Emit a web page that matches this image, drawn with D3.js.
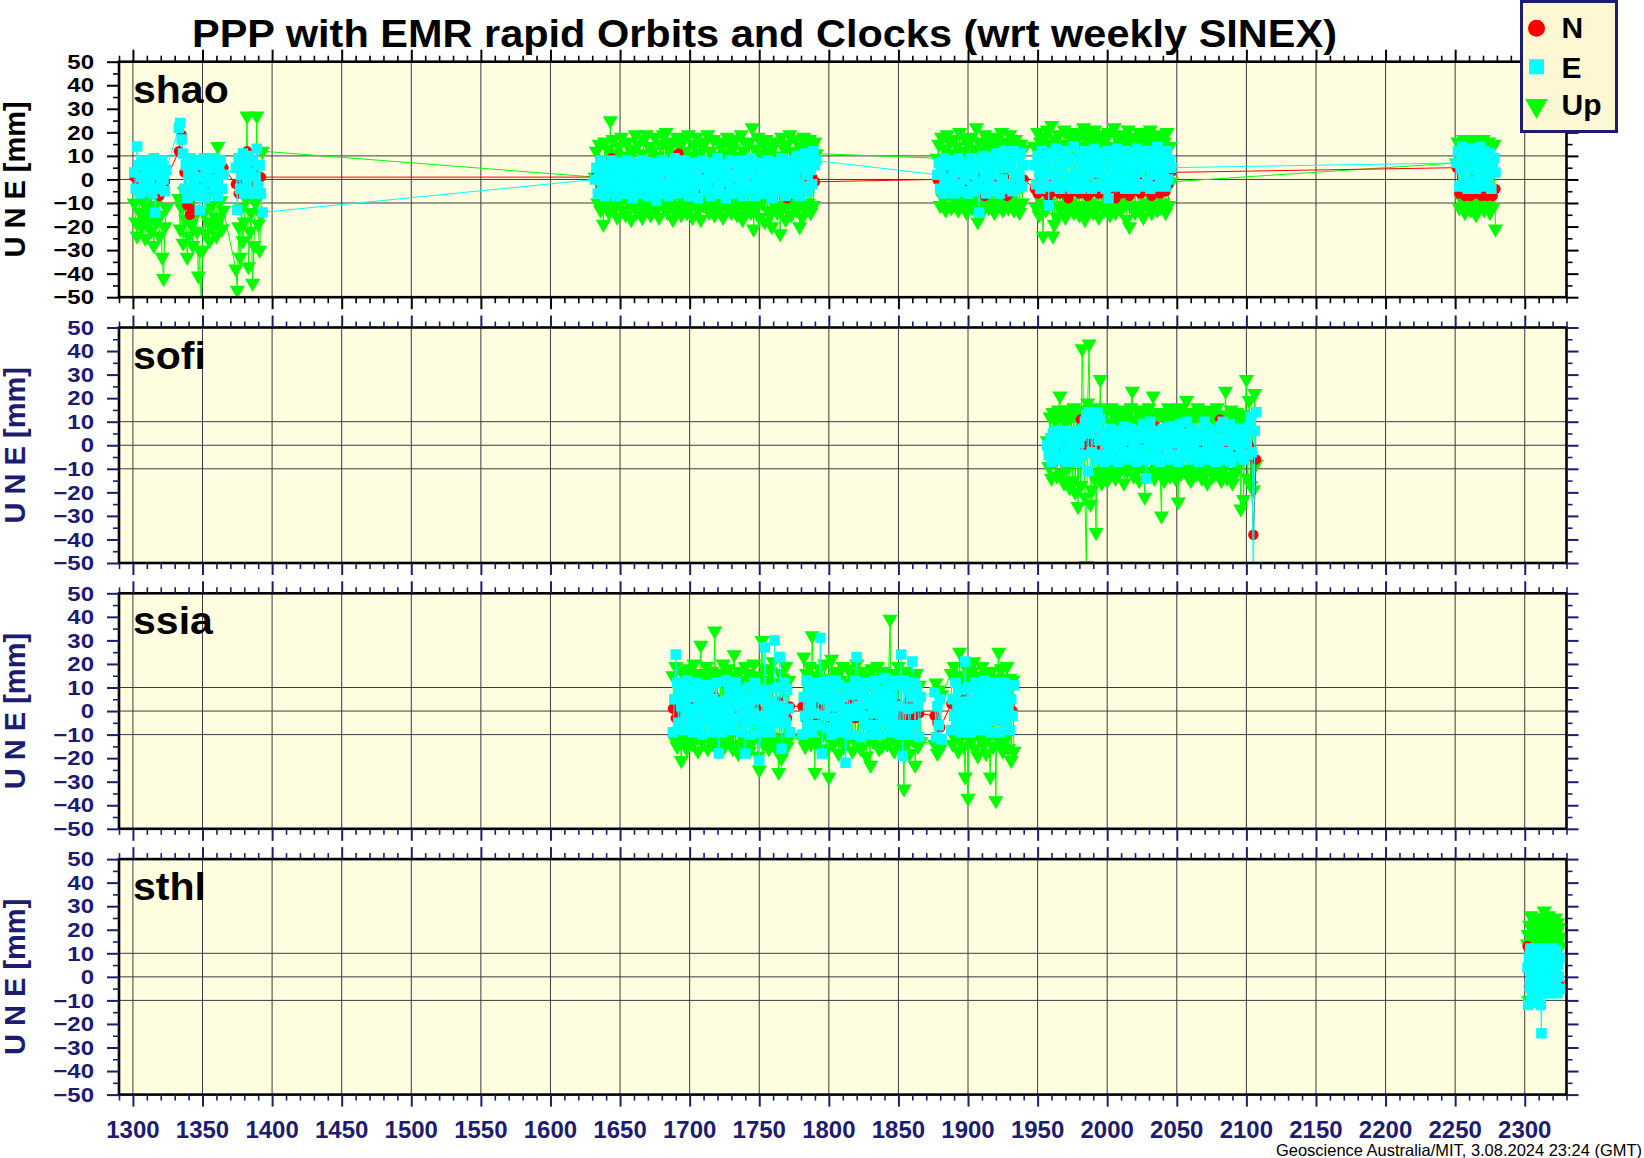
<!DOCTYPE html>
<html><head><meta charset="utf-8">
<script src="https://cdn.jsdelivr.net/npm/d3@7"></script>
<style>body{margin:0;background:#fff;} svg{display:block;}</style>
</head><body>
<svg id="c" width="1644" height="1158"></svg>
<script>
// ---------------- DATA ----------------
const stations = ["shao", "sofi", "ssia", "sthl"];
const xTicksMajor = [1300,1350,1400,1450,1500,1550,1600,1650,1700,1750,1800,1850,1900,1950,2000,2050,2100,2150,2200,2250,2300];
const yTicksMajor = [50,40,30,20,10,0,-10,-20,-30,-40,-50];
const gridY = [10,0,-10];
const titleText = "PPP with EMR rapid Orbits and Clocks (wrt weekly SINEX)";
const footerText = "Geoscience Australia/MIT, 3.08.2024 23:24 (GMT)";
const legendLabels = ["N","E","Up"];

// time sampling (GPS weeks): first week of each data segment, and the step of each series
const segStarts = {
  shao: [1301, 1333, 1374, 1632, 1878, 1948, 2251],
  sofi: [1957],
  ssia: [1688, 1781, 1876, 1888],
  sthl: [2302]
};
const weekStep = {
  shao: {N: 2, E: 1, U: 1},
  sofi: {N: 2, E: 1, U: 1},
  ssia: {N: 2, E: 1, U: 1},
  sthl: {N: 1, E: 0.5, U: 0.5}
};

// ---- shao (mm)
const shaoN = [
 [1,-3,3,-2,2,-4,0,3,-3,-7,2,-1],
 [12,19,3,-11,-15,-13,-4,2,-3,3,-2,1,-4,2,-1,3,5],
 [-2,-6,3,-1,12,4,-3,2,-2,1],
 [1,2,-3,4,-2,3,9,-1,2,-3,1,4,-2,3,0,-3,2,4,-4,1,-6,2,-1,3,-3,1,4,-2,0,3,11,-2,2,-3,4,0,-2,3,-4,1,2,-3,4,-1,1,-2,-5,3,0,2,-3,4,1,-2,3,-1,8,2,-3,1,4,-2,0,3,-4,2,-1,3,-3,-8,1,3,-2,4,0,-3,2,-2,1,-1],
 [0,3,-2,2,-3,1,-6,2,-1,3,-3,1,2,-2,0,-4,3,-7,1,-2,2,-3,0,-4,1,-7,-2,-5,-3,-4,-1,0],
 [-4,-6,-2,-5,0,-7,-3,-5,-1,-6,-4,-2,-8,-3,-5,0,-6,-4,-2,-7,-3,-5,-1,-6,-4,-2,-7,-5,-3,-8,-1,-6,-4,-2,-7,-5,-3,0,-6,-4,-2,-5,-7,-3,-1,-6,-4,-5,-2,3],
 [5,-6,-2,-7,-4,-7,0,-6,-3,-7,-5,-7,-6,-7,-4]
];
const shaoE = [
 [3,-4,14,6,-6,1,8,-2,5,-5,7,-1,3,-6,9,-14,2,-4,6,-3,8,0,-5,4],
 [22,24,17,11,-4,6,-8,2,9,-6,4,-2,8,-7,1,-13,6,-4,9,-8,3,-1,7,-6,5,-3,9,0,-7,4,8,-4,2],
 [5,-13,9,-4,2,11,-6,6,-1,10,-5,3,8,-6,1,13,-3,6,-6,-14],
 [0,5,-6,3,8,-3,1,-7,6,-1,4,-5,8,-2,2,-7,6,0,-4,7,-6,3,-1,8,-5,1,5,-8,7,-3,2,-6,6,-2,8,-4,0,4,-7,5,
  -1,7,-5,3,-9,6,1,-3,8,-6,4,-2,7,-7,2,5,-4,9,-1,-6,3,6,-5,0,8,-3,4,-7,6,1,-4,7,-1,3,-8,5,-2,8,0,-5,
  6,-3,2,-7,7,1,-5,4,9,-2,-6,3,6,-1,-8,5,0,8,-4,2,7,-6,1,4,-3,8,-7,3,-1,6,-5,2,9,-3,5,-7,0,7,-4,3,
  -1,6,-6,4,8,-2,1,-8,5,-4,7,0,-5,3,9,-3,6,-7,2,-1,8,-4,4,-6,1,10,-2,5,-7,7,-3,11,2,-5,9,4,-2,12,6,8],
 [2,7,-4,4,-6,9,0,-3,6,-5,8,1,-6,5,-2,9,-4,3,7,-5,0,6,-6,4,9,-3,2,-5,8,-1,-14,5,-4,10,1,-6,7,-2,4,9,
  -5,2,11,-3,6,-6,8,0,12,-4,5,10,-2,7,-5,12,3,-4,9,1,11,-3,6],
 [6,-2,10,3,-4,12,1,8,-3,5,-11,11,2,-3,9,13,0,6,-4,10,4,-2,12,7,-3,1,9,-4,14,3,-1,8,11,-4,5,0,12,-3,7,2,
  10,-4,6,13,-2,3,9,-3,11,1,7,-4,12,-8,5,-1,10,2,-3,13,6,-2,9,0,12,-4,4,8,-3,11,1,7,-4,13,3,-2,10,5,-3,9,
  12,-1,6,-4,11,2,8,-3,14,4,-2,10,1,7,-3,12,0,8,5],
 [7,12,-3,5,14,-2,9,1,-4,11,4,13,-1,7,-4,10,2,14,-2,6,12,-3,8,1,11,-4,5,9,3]
];
const shaoU = [
 [-10,-18,-24,-6,-14,-20,-9,-16,-25,-12,-19,-7,-22,-14,-28,-11,-18,-8,-24,-15,-33,-42,-20,-12],
 [-8,-21,-12,-27,-5,-17,-33,-24,-10,-19,-28,-6,-15,-22,-41,-30,-55,-30,-14,-23,-8,-18,-26,-11,-20,-5,-16,-24,14,-17,-9,-21,-13],
 [-38,-47,-20,-33,-12,-26,-18,-8,27,-37,-22,-14,-44,-28,-10,27,-19,-30,-15,12],
 [1,12,-10,15,-13,8,-19,16,-11,13,-14,25,-9,17,-12,11,-16,14,-8,18,-13,10,-15,16,-10,13,-17,12,-11,19,
  -14,15,-9,11,-16,17,-12,19,-10,14,-15,12,-11,18,-13,10,-16,15,-9,19,-12,20,-14,13,-10,16,-17,11,-13,18,
  -11,14,-15,17,-9,12,-14,19,-12,10,-16,15,-10,18,-13,11,-17,14,-11,16,-9,19,-14,12,-12,17,-15,10,-10,16,
  -13,14,-16,11,-11,18,-9,15,-14,13,-12,17,-15,10,-10,19,-17,12,-13,15,-11,16,-14,22,-21,13,-12,18,-16,11,
  -10,15,-18,17,-13,12,-15,-20,14,-11,16,-14,10,-23,18,-12,13,-17,15,-10,19,-15,12,-11,17,-13,11,-20,14,-16,
  18,-12,15,-10,17,-14,13,-11,16,11],
 [9,15,-11,18,-8,13,-13,19,-6,16,-12,11,17,-10,14,-13,20,-9,12,-11,17,-14,15,-10,18,-12,13,-7,22,-18,
  16,-11,12,-13,19,-9,14,-12,17,-10,13,-14,18,-11,15,-8,20,-13,12,-10,16,-12,19,-9,14,-13,17,-11,12,-14,15,-10,13],
 [14,-12,20,-15,16,-10,-24,18,-13,21,-10,15,23,-24,-19,17,-16,19,-12,14,-11,21,-16,15,-13,18,-10,20,-14,16,
  -12,19,-15,14,-11,22,-17,17,-13,20,-10,16,-14,21,-12,18,-16,15,-11,19,-13,17,-10,20,-15,14,-12,22,-14,18,
  -11,16,-13,19,-10,15,-17,21,-20,17,-12,18,-14,16,-11,20,-13,15,-16,19,-10,17,-12,21,-14,16,-11,19,-13,15,
  -12,18,-10,16,-14,20,-11,14,-1],
 [7,16,-12,14,-9,17,-14,13,-11,15,-13,17,-10,12,-15,16,-12,14,-9,17,-13,15,-11,16,-14,13,-12,15,-21]
];

// ---- sofi (mm)
const sofiN = [[-1,2,-7,3,-3,1,4,-2,2,-4,0,3,11,-2,2,-3,4,-1,1,-4,3,-2,0,4,-3,2,-1,3,-4,1,2,-3,4,0,-2,3,-4,1,2,8,
  -3,2,-1,4,-4,0,3,-2,2,-3,8,-1,3,-4,2,0,-3,4,-2,1,3,-4,11,0,-2,4,-3,1,2,-4,3,-2,1,-1,-38,-6]];
const sofiE = [[0,-4,3,-7,5,-2,6,-6,1,4,-5,2,6,-3,-7,4,0,5,-6,3,-2,6,-7,1,4,-4,7,10,13,-11,14,5,-3,12,8,-6,14,2,11,-4,
  6,-7,1,4,-3,7,-6,2,5,-2,3,-7,6,0,-4,8,-6,2,5,-3,7,-5,1,4,-7,6,-2,3,-6,9,-3,-14,5,1,10,-6,3,-4,6,-1,
  4,-7,2,7,-5,0,5,-3,8,-6,1,6,-4,3,-7,9,2,-2,5,-5,10,-1,4,-6,7,0,-4,3,6,-7,2,5,-3,10,-6,1,7,-5,4,-2,
  6,-7,3,0,8,-4,10,-6,2,5,-3,9,-7,4,0,6,-5,2,7,-2,3,-6,5,1,-4,8,12,-3,-62,6,14]];
const sofiU = [[2,-9,12,-14,14,-7,11,-13,15,21,-12,13,-16,10,-10,15,-18,12,-15,16,-20,13,-26,11,-17,41,15,-22,-51,18,
  43,-25,-19,14,-14,-37,16,-12,28,-16,12,-11,15,-15,10,-13,16,-9,13,-14,11,-12,15,-10,13,-16,12,-11,14,-9,
  16,23,-13,11,-10,15,-15,12,-9,14,-22,10,-13,16,-11,12,21,-14,11,-10,14,-12,-30,13,-15,11,-9,16,-13,12,
  -11,15,-14,10,-24,13,-12,16,-10,12,19,-13,11,-15,14,-9,12,-12,16,-11,13,-14,10,-10,15,-16,12,-9,14,-13,
  11,-12,16,-11,13,-15,10,-10,23,-14,12,-13,15,-16,11,-12,14,-9,10,-27,13,-23,11,28,-14,19,-17,12,-19,22,-8]];

// ---- ssia (mm)
const ssiaN = [
 [1,-3,4,-2,3,-4,2,0,-3,3,-1,4,-3,2,-2,6,-4,1,3,-2,0,4,-3,2,-4,1,3,-1,-4,2,4,-2,0,-4,3,-1,2,-3,4,-2,1,-3,2],
 [2,-3,4,-1,1,-4,3,0,-2,4,-3,1,2,-4,3,-1,0,4,4,-3,2,-2,10,-4,1,3,-1,-3,2,0,4,-2,1,-4,3,-1,2,-3,4,0,-2,3,-1],
 [-2,-5,-7],
 [3,-2,4,-4,1,5,-3,2,-1,4,-4,0,3,-2,5,-3,1,-4,2,4,-1,3,0]
];
const ssiaE = [
 [-9,5,24,12,-5,9,2, -8,5,-2,13,-5,9,1, -9,6,-2,12,-6,9,2, -10,5,-1,11,-5,8,2, -9,5,-2,12,-5,-18,2,
  -9,4,-2,13,-5,9,1, -8,5,-3,12,-4,9,2, -9,6,-2,-18,-5,10,2, -10,5,-1,12,-5,9,-21, -9,5,-2,27,-6,9,2,
  -9,4,-2,30,-5,10,2, 23,-16,-2,12,-5,9,1, -9],
 [-10,6,-2,13,-6,10,2, -9,6,-1,12,-6,9,31, -18,5,-2,13,-7,10,2, -10,6,-3,13,-6,11,2, -9,6,-2,-22,-6,10,1,
  -10,7,-2,13,23,10,2, -11,6,-2,12,-6,10,3, -10,5,-1,13,-6,9,2, -10,6,-2,14,-5,10,2, -9,6,-2,13,-6,11,2,
  -10,24,-19,13,-6,10,1, -10,6,21,12,-6,10,2, -11,6],
 [8,-11,2,-6,5,-12],
 [-8,5,-2,12,-5,9,2, -9,4,-1,21,-5,10,2, -9,5,-2,12,-6,9,1, -8,5,-2,13,-5,9,2, -9,6,-2,12,-4,8,2,
  -9,5,-1,12,-5,9,2, -8,5,-2,11]
];
const ssiaU = [
 [15,-12,19,-15,12,-10,-21,17,-13,14,-16,18,-11,13,-14,20,-9,16,-17,12,28,-13,15,-11,19,-16,13,-12,17,-14,
  34,-10,14,-17,16,-12,20,-15,11,-13,18,-11,15,-16,24,-14,12,-18,17,-10,13,-15,19,-12,16,-17,11,-13,20,-11,
  14,-19,-25,15,30,-14,18,-12,13,-16,17,-11,21,-15,12,-13,-26,16,-20,14,-12,19,-15,13,-11],
 [-12,23,-15,16,-11,19,-14,32,13,-26,15,-13,18,-16,12,-10,20,-17,14,-28,11,22,-14,17,-12,15,-18,13,-11,19,
  -15,12,-13,18,-10,16,-17,14,-12,20,-14,11,-16,17,-11,13,-19,15,-12,-23,18,-13,14,-10,19,-16,12,-15,17,-11,
  13,-14,16,39,-12,15,-17,11,-13,19,-16,14,-11,-33,17,-14,12,-18,15,-12,13,-23,16,-15,11,-13],
 [-14,12,-18,9,-16,7],
 [16,-14,19,-12,15,-17,25,-11,13,-15,-28,18,-37,14,-13,17,21,-16,12,-19,15,-12,19,-14,13,-18,16,-11,-28,17,
  -15,12,-38,14,25,-13,18,-17,11,-12,19,-16,14,-21,13,-17]
];

// ---- sthl (mm)
const sthlN = [[13,-4,5,-6,3,-2,9,6,-5,2,-3,8,-4,9,3,-2,5,-6,2,4,-3,1,-3,-2]];
const sthlE = [[4,-12,8,-4,12,0,-8,10,-2,6,-11,2,12,-6,8,-9,4,11,-3,-12,
  -24,9,-3,12,1,-7,5,11,-5,8,0,12,-7,3,10,-4,6,12,-6,2,9,-3,11,-7,5,0,8,-5]];
const sthlU = [[14,18,-10,22,12,26,16,20,9,24,18,13,22,16,25,11,20,15,23,18,
  12,21,16,25,28,14,19,23,12,17,26,15,21,10,24,18,13,22,16,20,25,12,19,23,15,21,17,13]];

const seriesByStation = {
  shao: {N: shaoN, E: shaoE, U: shaoU},
  sofi: {N: sofiN, E: sofiE, U: sofiU},
  ssia: {N: ssiaN, E: ssiaE, U: ssiaU},
  sthl: {N: sthlN, E: sthlE, U: sthlU}
};

// ---------------- STYLE / LAYOUT ----------------
const NAVY = "#1c1c70";
const PLOT_BG = "#fffde0";
const LEGEND_BG = "#fdf7d4";
const COLORS = {N: "#ff0000", E: "#00ffff", U: "#00ff00"};
const FONT = "'Liberation Sans', Arial, Helvetica, sans-serif";
const panel = {top0: 61.7, gap: 265.8, h: 235.5, left: 119, right: 1566.5};

const svg = d3.select("#c");
svg.append("rect").attr("width",1644).attr("height",1158).attr("fill","#fff");

const x = d3.scaleLinear().domain([1290, 2330]).range([panel.left, panel.right]);

const symCircle = d3.symbol(d3.symbolCircle, Math.PI*5.2*5.2);
const symSquare = d3.symbol(d3.symbolSquare, 10.5*10.5);
const symTri = d3.symbol(d3.symbolTriangle, 100);

function toPoints(segs, starts, step) {
  const pts = [];
  segs.forEach((vals, k) => vals.forEach((v, j) => pts.push([starts[k] + j*step, v])));
  return pts;
}

const minorX = d3.range(1290, 2331, 10).filter(v => v % 50 !== 0);
const minorY = d3.range(-45, 50, 10);

stations.forEach((st, p) => {
  const top = panel.top0 + p*panel.gap, bottom = top + panel.h;
  const y = d3.scaleLinear().domain([-50, 50]).range([bottom, top]);
  const col = p === 0 ? "#000" : NAVY;
  const g = svg.append("g");
  const [x0, x1] = x.range();

  g.append("rect").attr("x", x0).attr("y", top).attr("width", x1-x0).attr("height", panel.h).attr("fill", PLOT_BG);

  const clipId = "clip" + p;
  svg.append("clipPath").attr("id", clipId).append("rect")
    .attr("x", x0).attr("y", top).attr("width", x1-x0).attr("height", panel.h);

  // grid
  const grid = g.append("g").attr("stroke", "#3c3c3c").attr("stroke-width", 1);
  grid.selectAll("line.v").data(xTicksMajor).join("line").attr("class","v")
    .attr("x1", d => x(d)).attr("x2", d => x(d)).attr("y1", top).attr("y2", bottom);
  grid.selectAll("line.h").data(gridY).join("line").attr("class","h")
    .attr("x1", x0).attr("x2", x1).attr("y1", d => y(d)).attr("y2", d => y(d));

  // data: Up first, then N, then E on top
  const dg = g.append("g").attr("clip-path", `url(#${clipId})`);
  const starts = segStarts[st];
  const line = d3.line().x(d => x(d[0])).y(d => y(d[1]));
  ["U", "N", "E"].forEach(key => {
    const pts = toPoints(seriesByStation[st][key], starts, weekStep[st][key]);
    dg.append("path").datum(pts).attr("d", line).attr("fill", "none")
      .attr("stroke", COLORS[key]).attr("stroke-width", 1);
    const sym = key === "N" ? symCircle : key === "E" ? symSquare : symTri;
    dg.append("g").selectAll("path").data(pts).join("path")
      .attr("d", sym)
      .attr("fill", COLORS[key])
      .attr("transform", d => `translate(${x(d[0])},${y(d[1])})` + (key === "U" ? " rotate(180)" : ""));
  });

  // frame
  g.append("rect").attr("x", x0).attr("y", top).attr("width", x1-x0).attr("height", panel.h)
    .attr("fill", "none").attr("stroke", "#000").attr("stroke-width", 2.6);

  // ticks
  const axes = [
    [d3.axisLeft(y).tickValues(yTicksMajor).tickSize(12), `translate(${x0},0)`, 2],
    [d3.axisLeft(y).tickValues(minorY).tickSize(6), `translate(${x0},0)`, 1.6],
    [d3.axisRight(y).tickValues(yTicksMajor).tickSize(12), `translate(${x1},0)`, 2],
    [d3.axisRight(y).tickValues(minorY).tickSize(6), `translate(${x1},0)`, 1.6],
    [d3.axisTop(x).tickValues(xTicksMajor).tickSize(12), `translate(0,${top})`, 2],
    [d3.axisTop(x).tickValues(minorX).tickSize(6), `translate(0,${top})`, 1.6],
    [d3.axisBottom(x).tickValues(xTicksMajor).tickSize(12), `translate(0,${bottom})`, 2],
    [d3.axisBottom(x).tickValues(minorX).tickSize(6), `translate(0,${bottom})`, 1.6]
  ];
  axes.forEach(([ax, tr, w]) => {
    const ag = g.append("g").attr("transform", tr).call(ax.tickFormat(""));
    ag.select(".domain").remove();
    ag.selectAll("text").remove();
    ag.attr("color", col);
    ag.selectAll("line").attr("stroke-width", w);
  });

  // y tick labels
  g.append("g").selectAll("text").data(yTicksMajor).join("text")
    .attr("transform", d => `translate(94,${y(d)}) scale(1.2,1)`)
    .attr("text-anchor", "end").attr("dy", "0.36em")
    .attr("font-family", FONT).attr("font-weight", "bold").attr("font-size", 20)
    .attr("fill", col)
    .text(d => d3.format("d")(d).replace("-", "\u2212"));

  // axis title
  g.append("text").attr("transform", `translate(25,${(top+bottom)/2}) rotate(-90)`)
    .attr("text-anchor", "middle").attr("font-family", FONT).attr("font-weight", "bold")
    .attr("font-size", 29).attr("fill", col).text("U N E [mm]");

  // station label
  g.append("text").attr("transform", `translate(133,${top+41}) scale(1.08,1)`)
    .attr("font-family", FONT).attr("font-weight", "bold").attr("font-size", 38)
    .attr("fill", "#000").text(st);

  if (p === stations.length - 1) {
    g.append("g").selectAll("text").data(xTicksMajor).join("text")
      .attr("x", d => x(d)).attr("y", bottom + 43)
      .attr("text-anchor", "middle").attr("font-family", FONT).attr("font-weight", "bold")
      .attr("font-size", 24).attr("fill", NAVY).text(d => d);
  }
});

// title
svg.append("text").attr("x", 764.5).attr("y", 47).attr("text-anchor", "middle")
  .attr("font-family", FONT).attr("font-weight", "bold").attr("font-size", 39)
  .attr("textLength", 1145).attr("lengthAdjust", "spacingAndGlyphs")
  .attr("fill", "#000").text(titleText);

// footer
svg.append("text").attr("x", 1642).attr("y", 1155.5).attr("text-anchor", "end")
  .attr("font-family", FONT).attr("font-size", 16.5)
  .attr("textLength", 366).attr("lengthAdjust", "spacingAndGlyphs")
  .attr("fill", "#000").text(footerText);

// legend
const lg = svg.append("g");
lg.append("rect").attr("x", 1521.5).attr("y", 1.5).attr("width", 95).attr("height", 130)
  .attr("fill", LEGEND_BG).attr("stroke", NAVY).attr("stroke-width", 3);
const legendSyms = [
  d3.symbol(d3.symbolCircle, Math.PI*8.5*8.5),
  d3.symbol(d3.symbolSquare, 15*15),
  d3.symbol(d3.symbolTriangle, 225)
];
const legendKeys = ["N","E","U"];
const legendSymY = [28.3, 66.7, 105.7];
const legendTextY = [38.3, 77.5, 115];
legendKeys.forEach((k, i) => {
  lg.append("path").attr("d", legendSyms[i]).attr("fill", COLORS[k])
    .attr("transform", `translate(1536.5,${legendSymY[i]})` + (k === "U" ? " rotate(180)" : ""));
  lg.append("text").attr("x", 1561.5).attr("y", legendTextY[i])
    .attr("font-family", FONT).attr("font-weight", "bold").attr("font-size", 30)
    .attr("fill", "#000").text(legendLabels[i]);
});
</script>
</body></html>
